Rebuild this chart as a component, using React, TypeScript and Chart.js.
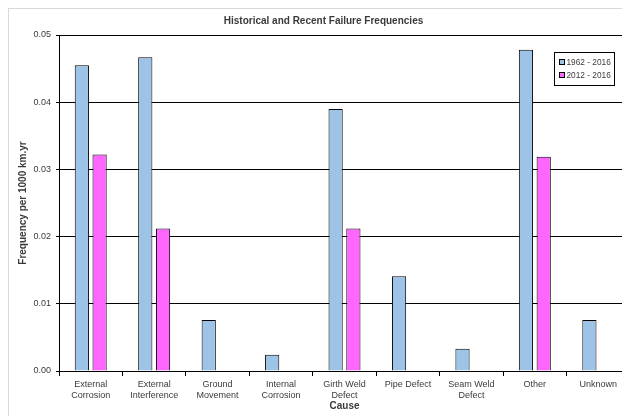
import React, { useEffect, useRef } from "react";
import { Chart, registerables } from "chart.js";

Chart.register(...registerables);

const categories: (string | string[])[] = [
  ["External", "Corrosion"],
  ["External", "Interference"],
  ["Ground", "Movement"],
  ["Internal", "Corrosion"],
  ["Girth Weld", "Defect"],
  "Pipe Defect",
  ["Seam Weld", "Defect"],
  "Other",
  "Unknown",
];

const series1962: (number | null)[] = [0.0455, 0.0467, 0.0076, 0.0024, 0.039, 0.0141, 0.0033, 0.0478, 0.0076];
const series2012: (number | null)[] = [0.0322, 0.0212, null, null, 0.0212, null, null, 0.0319, null];

const seriesLabels = ["1962 - 2016", "2012 - 2016"];
const seriesColors = ["#9DC3E6", "#FF66FF"];

const FONT = "'Liberation Sans', Arial, sans-serif";
const TEXT = "#3a3a3a";

const legendPlugin = {
  id: "boxLegend",
  afterDraw(chart: any) {
    const { ctx, chartArea } = chart;
    const w = 60;
    const h = 33;
    const x = chartArea.right - 16 - w;
    const y = chartArea.top + 17;
    ctx.save();
    ctx.fillStyle = "#ffffff";
    ctx.fillRect(x, y, w, h);
    ctx.strokeStyle = "#000000";
    ctx.lineWidth = 1;
    ctx.strokeRect(x + 0.5, y + 0.5, w, h);
    ctx.font = `8.3px ${FONT}`;
    ctx.textBaseline = "middle";
    chart.data.datasets.forEach((ds: any, i: number) => {
      const cy = y + 10 + i * 13;
      ctx.fillStyle = ds.backgroundColor;
      ctx.fillRect(x + 5, cy - 3, 6, 6);
      ctx.strokeStyle = "#000";
      ctx.strokeRect(x + 5.5, cy - 2.5, 5, 5);
      ctx.fillStyle = TEXT;
      ctx.fillText(ds.label, x + 12.5, cy + 0.5);
    });
    ctx.restore();
  },
};

export default function App() {
  const ref = useRef<HTMLCanvasElement>(null);
  useEffect(() => {
    if (!ref.current) return;
    const chart = new Chart(ref.current, {
      type: "bar",
      data: {
        labels: categories,
        datasets: [
          {
            label: seriesLabels[0],
            data: series1962,
            backgroundColor: seriesColors[0],
            borderColor: "#000",
            borderWidth: 1,
            categoryPercentage: 0.56,
            barPercentage: 0.8,
          },
          {
            label: seriesLabels[1],
            data: series2012,
            backgroundColor: seriesColors[1],
            borderColor: "#000",
            borderWidth: 1,
            categoryPercentage: 0.56,
            barPercentage: 0.8,
          },
        ],
      },
      options: {
        animation: false,
        responsive: false,
        devicePixelRatio: 1,
        layout: { padding: { left: 8, right: 0, top: 0, bottom: 4 } },
        plugins: {
          legend: { display: false },
          tooltip: { enabled: false },
          title: {
            display: true,
            text: "Historical and Recent Failure Frequencies",
            color: TEXT,
            font: { family: FONT, size: 10, weight: "bold" },
            padding: { top: 6, bottom: 8 },
          },
        },
        scales: {
          x: {
            grid: {
              offset: true,
              drawOnChartArea: false,
              drawTicks: true,
              tickLength: 5,
              color: "#000",
            },
            border: { display: true, color: "#000", width: 1 },
            ticks: {
              color: TEXT,
              font: { family: FONT, size: 9 },
              padding: 3,
              maxRotation: 0,
              autoSkip: false,
            },
            title: {
              display: true,
              text: "Cause",
              color: TEXT,
              font: { family: FONT, size: 10, weight: "bold" },
              padding: { top: 0, bottom: 0 },
            },
            afterFit(scale: any) {
              scale.height = 41;
            },
          },
          y: {
            min: 0,
            max: 0.05,
            ticks: {
              stepSize: 0.01,
              color: TEXT,
              font: { family: FONT, size: 9 },
              padding: 5,
              callback: (v: any) => Number(v).toFixed(2),
            },
            grid: { color: "#000", lineWidth: 1, drawTicks: true, tickLength: 3 },
            border: { display: true, color: "#000", width: 1 },
            title: {
              display: true,
              text: "Frequency per 1000 km.yr",
              color: TEXT,
              font: { family: FONT, size: 10, weight: "bold" },
              padding: { top: 0, bottom: 0 },
            },
            afterFit(scale: any) {
              scale.width = 42;
            },
          },
        },
      },
      plugins: [legendPlugin],
    });
    return () => chart.destroy();
  }, []);
  return (
    <div
      style={{
        width: 621,
        height: 407,
        borderLeft: "1px solid #d9d9d9",
        borderTop: "1px solid #d9d9d9",
        background: "#fff",
      }}
    >
      <canvas ref={ref} width={621} height={407} style={{ display: "block" }} />
    </div>
  );
}
